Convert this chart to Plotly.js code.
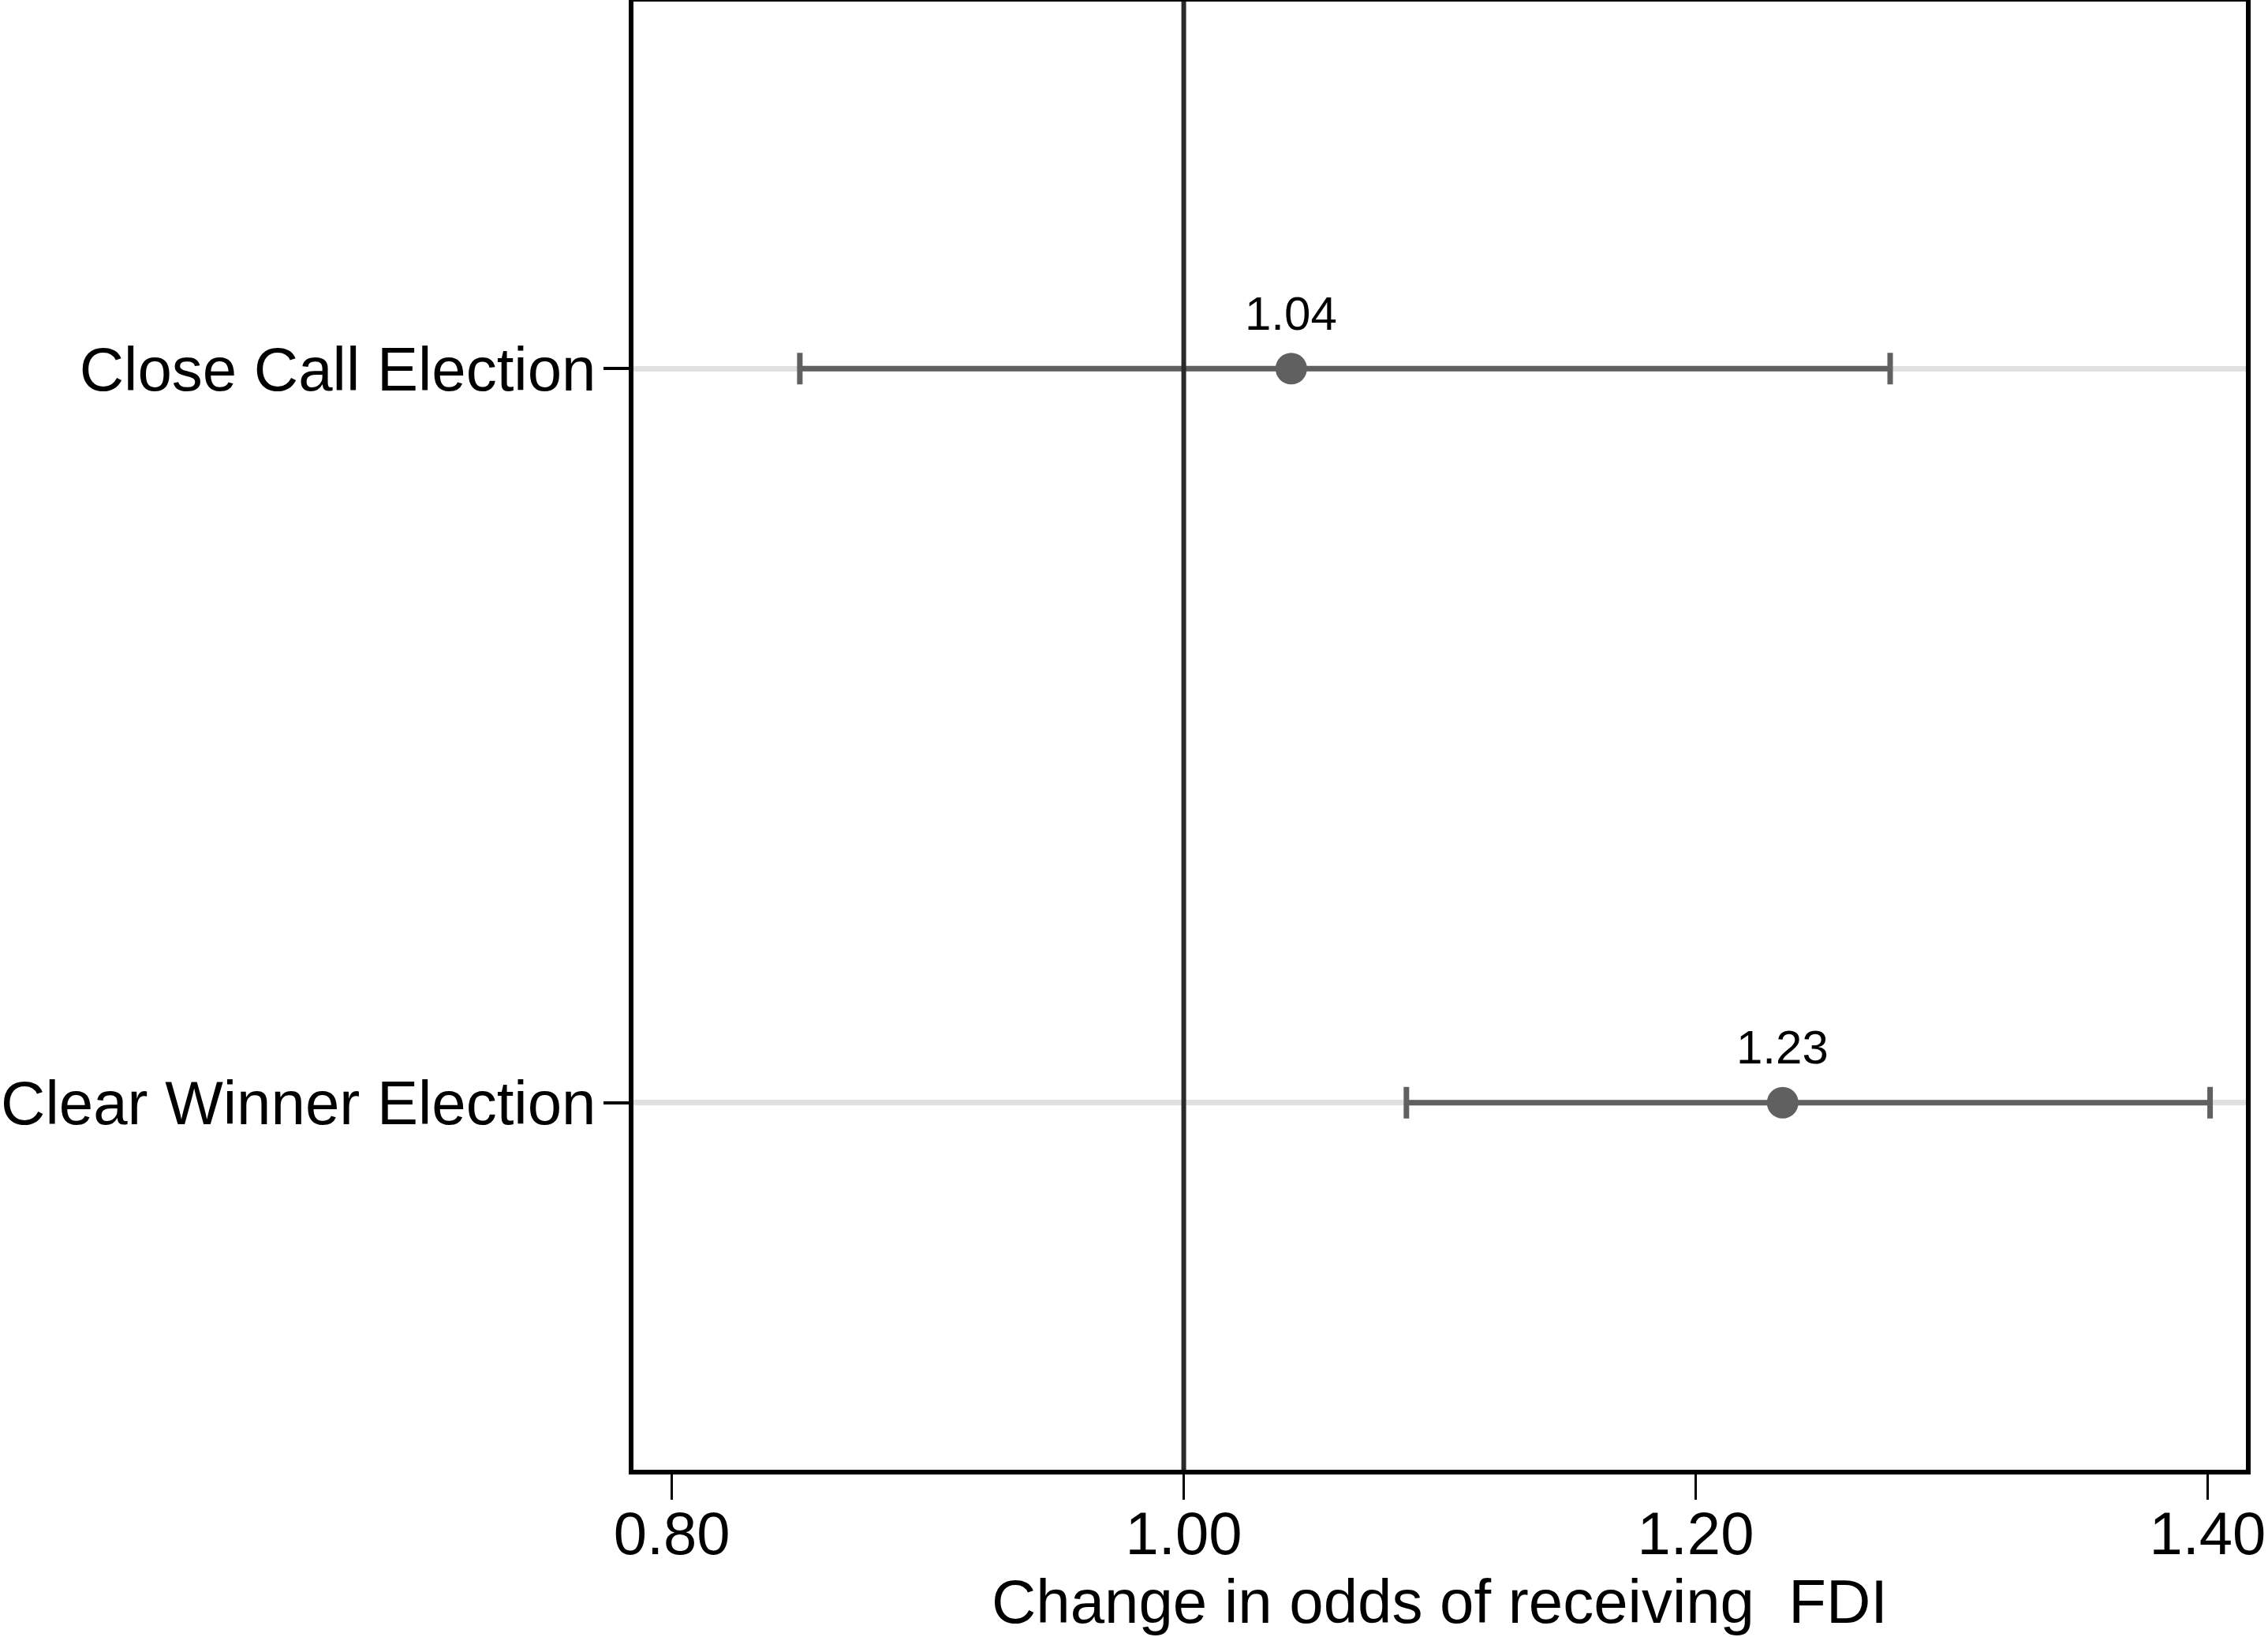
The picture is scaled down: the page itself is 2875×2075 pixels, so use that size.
<!DOCTYPE html>
<html>
<head>
<meta charset="utf-8">
<script src="https://cdn.plot.ly/plotly-3.0.1.min.js"></script>
<style>
  html, body { margin: 0; padding: 0; background: #fff; }
  #chart { width: 2875px; height: 2075px; }
</style>
</head>
<body>
<div id="chart"></div>
<script>
// odds ratios with confidence intervals
var categories = ['Clear Winner Election', 'Close Call Election'];
var estimates = [1.234, 1.042];
var lowerCI = [1.087, 0.850];
var upperCI = [1.401, 1.276];
var xTicks = [0.8, 1.0, 1.2, 1.4];
var xTickLabels = ['0.80', '1.00', '1.20', '1.40'];

var fontFamily = '"Liberation Sans", Arial, Helvetica, sans-serif';
var barColor = '#606060';

var trace = {
    x: estimates,
    y: categories,
    type: 'scatter',
    mode: 'markers',
    marker: { size: 40, color: barColor },
    error_x: {
        type: 'data',
        symmetric: false,
        array: estimates.map(function (v, i) { return upperCI[i] - v; }),
        arrayminus: estimates.map(function (v, i) { return v - lowerCI[i]; }),
        color: barColor,
        thickness: 7,
        width: 20
    },
    hoverinfo: 'skip'
};

var labels = estimates.map(function (v, i) {
    return {
        x: v,
        y: categories[i],
        text: v.toFixed(2),
        showarrow: false,
        yshift: 70,
        font: { family: fontFamily, size: 60, color: '#000' }
    };
});

var layout = {
    width: 2875,
    height: 2075,
    margin: { l: 803, r: 28, t: 2, b: 212 },
    paper_bgcolor: '#fff',
    plot_bgcolor: '#fff',
    showlegend: false,
    font: { family: fontFamily, color: '#000' },
    xaxis: {
        range: [0.785, 1.415],
        tickvals: xTicks,
        ticktext: xTickLabels,
        ticks: 'outside',
        ticklen: 32,
        tickwidth: 3,
        tickcolor: '#000',
        ticklabelstandoff: -22,
        tickfont: { family: fontFamily, size: 76, color: '#000' },
        showgrid: false,
        zeroline: false,
        showline: true,
        linecolor: '#000',
        linewidth: 6,
        mirror: true,
        title: {
            text: 'Change in odds of receiving  FDI',
            font: { family: fontFamily, size: 78, color: '#000' },
            standoff: 8
        }
    },
    yaxis: {
        type: 'category',
        categoryorder: 'array',
        categoryarray: categories,
        range: [-0.5, 1.5],
        ticks: 'outside',
        ticklen: 32,
        tickwidth: 4,
        tickcolor: '#000',
        ticklabelstandoff: -6,
        tickfont: { family: fontFamily, size: 78, color: '#000' },
        showgrid: true,
        gridcolor: '#e0e0e0',
        gridwidth: 7,
        zeroline: false,
        showline: true,
        linecolor: '#000',
        linewidth: 6,
        mirror: true
    },
    shapes: [{
        type: 'line',
        xref: 'x',
        yref: 'paper',
        x0: 1, x1: 1,
        y0: 0, y1: 1,
        line: { color: '#2a2a2a', width: 6 },
        layer: 'above'
    }],
    annotations: labels
};

Plotly.newPlot(document.getElementById('chart'), [trace], layout, { staticPlot: true });
</script>
</body>
</html>
